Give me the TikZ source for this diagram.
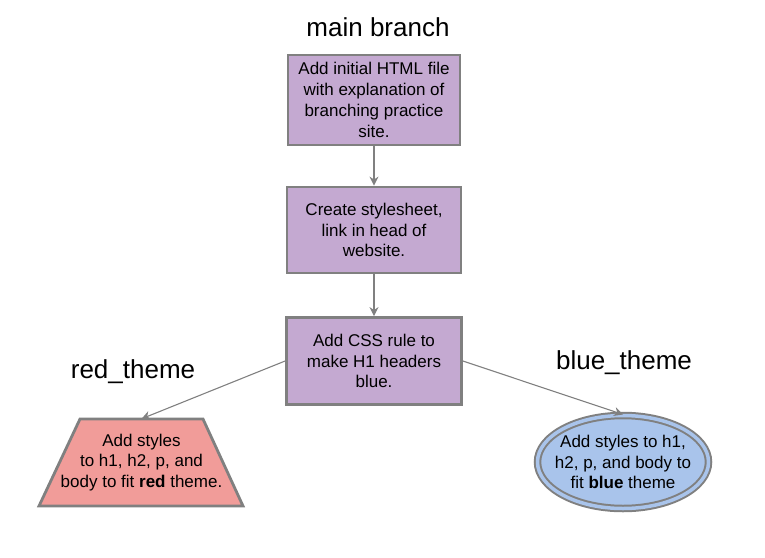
\documentclass[tikz,border=0pt]{standalone}
\usepackage{fontspec}
\setmainfont{Liberation Sans}
\usetikzlibrary{shapes.geometric,arrows.meta}
\definecolor{lilac}{HTML}{C4A9D1}
\definecolor{redfill}{HTML}{F19C99}
\definecolor{bluefill}{HTML}{A9C4EB}
\definecolor{edge}{HTML}{808080}
\begin{document}
\begin{tikzpicture}[x=1pt,y=-1pt,
  body/.style={align=center,font=\fontsize{17}{20.8}\selectfont,inner sep=0pt},
  commit/.style={body,draw=edge,line width=2.8pt,fill=lilac},
  title/.style={font=\fontsize{26}{30}\selectfont},
  conn/.style={draw=edge,line width=1.1pt,-{Stealth[length=9pt,width=9pt]}}]
\useasboundingbox (0,0) rectangle (765,557);
\node[title] (tmain) at (378,27) {main branch};
\node[title] (tred) at (133,372) {red\_theme};
\node[title] (tblue) at (624,363) {blue\_theme};
\node[commit,minimum width=172pt,minimum height=90pt] (b1) at (374,100)
  {Add initial HTML file\\with explanation of\\branching practice\\site.};
\node[commit,minimum width=174pt,minimum height=86pt] (b2) at (374,230)
  {Create stylesheet,\\link in head of\\website.};
\node[commit,minimum width=175pt,minimum height=87pt] (b3) at (374,361)
  {Add CSS rule to\\make H1 headers\\blue.};
% red trapezoid
\draw[draw=edge,line width=2.8pt,fill=redfill,line join=miter]
  (80,419) -- (203,419) -- (243,506) -- (39,506) -- cycle;
\node[body,minimum height=87pt,minimum width=123pt] (red) at (141.5,462.5)
  {Add styles\\to h1, h2, p, and\\body to fit \textbf{red} theme.};
% blue double ellipse
\node[ellipse,minimum width=171pt,minimum height=93pt,draw=edge,line width=2pt,
  double=bluefill,double distance=3.5pt,fill=bluefill,inner sep=0pt] (blue) at (623,462) {};
\node[body] (bluetxt) at (blue.center)
  {Add styles to h1,\\h2, p, and body to\\fit \textbf{blue} theme};
\draw[conn] (b1.south) -- (b2.north);
\draw[conn] (b2.south) -- (b3.north);
\draw[conn] (b3.west) -- (red.north);
\draw[conn] (b3.east) -- (blue.north);
\end{tikzpicture}
\end{document}
